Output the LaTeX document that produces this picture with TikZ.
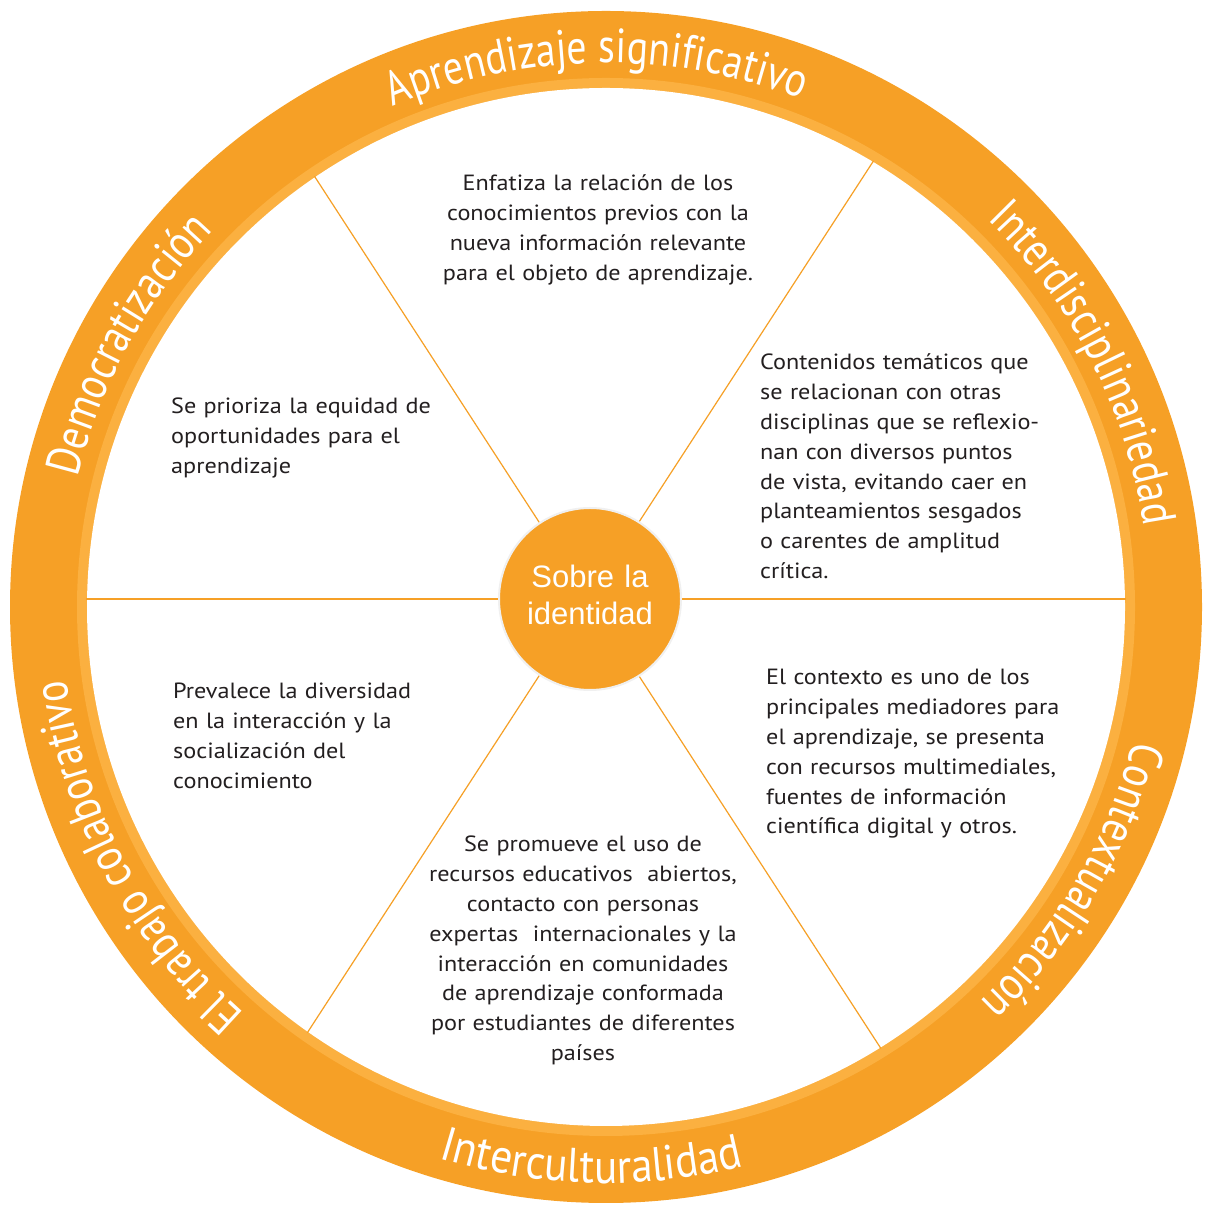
\documentclass[tikz,border=0pt]{standalone}
\usepackage{fontspec}
\setmainfont[FakeStretch=1.1]{PT Sans}
\newfontfamily\labelfam[FakeStretch=0.83]{PT Sans}
\newfontfamily\labelfamw[FakeStretch=0.9]{PT Sans}
\newfontfamily\hubfam{Liberation Sans}
\newcommand\labelfont{\labelfam\fontsize{48}{48}\selectfont}
\newcommand\labelfontw{\labelfamw\fontsize{48}{48}\selectfont}
\usetikzlibrary{decorations.text}
\definecolor{ringor}{HTML}{F6A026}
\definecolor{ringlt}{HTML}{FBB040}
\definecolor{txtdark}{HTML}{231F20}
\tikzset{
  bodyl/.style={font=\fontsize{22}{29.8}\selectfont, text=txtdark, inner sep=0pt, text width=340pt, align=left, anchor=base west},
  bodyc/.style={font=\fontsize{22}{29.8}\selectfont, text=txtdark, inner sep=0pt, text width=380pt, align=center, anchor=base},
  spoke/.style={draw=ringor, line width=1.2pt},
  hub/.style={circle, fill=ringor, draw=black!6, line width=2pt, minimum size=182pt, inner sep=0pt},
  hubtext/.style={font=\hubfam\fontsize{31}{37}\selectfont, text=white, inner sep=0pt, text width=220pt, align=center, anchor=base},
  ringtext/.style={decorate, decoration={text along path, text color=white, text align=center, text={|\labelfont|#1}}},
  ringtextw/.style={decorate, decoration={text along path, text color=white, text align=center, text={|\labelfontw|#1}}}
}
\begin{document}
\begin{tikzpicture}[x=1pt,y=1pt]
\useasboundingbox (0,0) rectangle (1205,1207);
\coordinate (C) at (606,600);
\coordinate (H) at (589,608);
% ring
\fill[ringor] (C) circle (596);
\fill[ringlt] (C) circle (529);
\fill[white] (C) circle (519);
% spokes
\begin{scope}
\clip (C) circle (520);
\foreach \a/\n in {0/e,57/ne,123/nw,180/w,237/sw,303/se}{
  \coordinate (end\n) at ([shift={(\a:700)}]H);
  \draw[spoke] (H) -- (end\n);
}
\end{scope}
% hub
\node[hub] (hubc) at (590,608) {};
\node[hubtext] (hubt) at (590,619) {Sobre la\\identidad};
% body texts
\node[bodyc] (t1) at (598,1016) {Enfatiza la relación de los\\conocimientos previos con la\\nueva información relevante\\para el objeto de aprendizaje.};
\node[bodyl] (t2) at (760,837) {Contenidos temáticos que\\se relacionan con otras\\disciplinas que se reflexio-\\nan con diversos puntos\\de vista, evitando caer en\\planteamientos sesgados\\o carentes de amplitud\\crítica.};
\node[bodyl] (t3) at (171,793) {Se prioriza la equidad de\\oportunidades para el\\aprendizaje};
\node[bodyl] (t4) at (173,508) {Prevalece la diversidad\\en la interacción y la\\socialización del\\conocimiento};
\node[bodyl] (t5) at (766,522) {El contexto es uno de los\\principales mediadores para\\el aprendizaje, se presenta\\con recursos multimediales,\\fuentes de información\\científica digital y otros.};
\node[bodyc] (t6) at (583,355) {Se promueve el uso de\\recursos educativos \ abiertos,\\contacto con personas\\expertas \ internacionales y la\\interacción en comunidades\\de aprendizaje conformada\\por estudiantes de diferentes\\países};
% ring labels (clockwise, tops outward)
\path[ringtext={Aprendizaje significativo}] ([shift={(161:544)}]C) arc[start angle=161, end angle=21, radius=544];
\path[ringtext={Interdisciplinariedad}] ([shift={(97:544)}]C) arc[start angle=97, end angle=-43, radius=544];
\path[ringtext={Contextualización}] ([shift={(39.6:544)}]C) arc[start angle=39.6, end angle=-100.4, radius=544];
\path[ringtext={El trabajo colaborativo}] ([shift={(278:544)}]C) arc[start angle=278, end angle=138, radius=544];
\path[ringtext={Democratización}] ([shift={(221.2:544)}]C) arc[start angle=221.2, end angle=81.2, radius=544];
% bottom label (counterclockwise, tops inward)
\path[ringtextw={Interculturalidad}] ([shift={(198.5:576)}]C) arc[start angle=198.5, end angle=338.5, radius=576];
\end{tikzpicture}
\end{document}
